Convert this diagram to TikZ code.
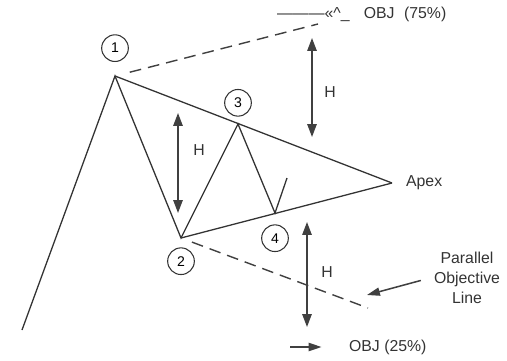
\documentclass[tikz,border=0pt]{standalone}
\usepackage{fontspec}
\setmainfont{Liberation Sans}
\usepackage{tikz}
\usetikzlibrary{arrows.meta,positioning}
\tikzstyle{trend} = [draw=black!80, line width=1.1pt, line join=miter]
\tikzstyle{objline} = [draw=black!75, line width=1.2pt, dash pattern=on 10pt off 6pt]
\tikzstyle{num} = [circle, draw=black!80, line width=0.9pt, minimum size=0.8cm,
                   inner sep=0pt, font=\fontsize{12}{14}\selectfont]
\tikzstyle{lbl} = [text=black!80, font=\fontsize{13.5}{17}\selectfont]
\tikzstyle{harrow} = [{Triangle[length=11pt,width=8pt]}-{Triangle[length=11pt,width=8pt]},
                      draw=black!75, line width=1.3pt]
\tikzstyle{arrow} = [-{Triangle[length=11pt,width=7pt]}, draw=black!75, line width=1.3pt]

\begin{document}
\begin{tikzpicture}[x=0.03cm, y=-0.03cm]
    \useasboundingbox (0,0) rectangle (507,360);
    % turning points of the pattern
    \coordinate (p0)   at (22,330);
    \coordinate (p1)   at (115,76);
    \coordinate (p2)   at (181,238);
    \coordinate (p3)   at (238,124);
    \coordinate (p4)   at (275,213);
    \coordinate (p5)   at (287,178);
    \coordinate (apex) at (392,183);

    \node [num, above=0.42cm of p1] (c1) {1};
    \node [num, below=0.28cm of p2] (c2) {2};
    \node [num, above=0.22cm of p3] (c3) {3};
    \node [num, below=0.34cm of p4] (c4) {4};
    \node [lbl, right=0.3cm of apex] (apx) {Apex};

    \draw [trend] (p0) -- (p1) -- (p2) -- (p3) -- (p4) -- (p5);
    \draw [trend] (p1) -- (apex);
    \draw [trend] (p2) -- (apex);

    % objective lines
    \node [lbl, anchor=west] (obj75) at (273,14) {———«\textasciicircum\_\hspace{0.9em}OBJ\hspace{0.6em}(75\%)};
    \coordinate (o75) at (318,24);
    \coordinate (o25) at (368,308);
    \draw [objline, shorten <=13pt] (p1) -- (o75);
    \draw [objline, shorten <=10pt] (p2) -- (o25);

    % heights
    \coordinate (ha) at (178,113);
    \coordinate (hb) at (178,213);
    \coordinate (hc) at (312,38);
    \coordinate (hd) at (312,137);
    \coordinate (he) at (307,222);
    \coordinate (hf) at (307,327);
    \draw [harrow] (ha) -- (hb);
    \draw [harrow] (hc) -- (hd);
    \draw [harrow] (he) -- (hf);
    \node [lbl] (h1) at (199,150) {H};
    \node [lbl] (h2) at (330,92)  {H};
    \node [lbl] (h3) at (327,272) {H};

    \node [lbl, align=center] (pol) at (467,278) {Parallel\\Objective\\Line};
    \coordinate (ptip) at (367,295);
    \draw [arrow, shorten <=8pt] (pol.west) -- (ptip);
    \node [lbl, anchor=west] (obj25) at (345,347) {OBJ (25\%)};
    \coordinate (a25) at (290,347);
    \draw [arrow, shorten >=20pt] (a25) -- (obj25.west);
\end{tikzpicture}
\end{document}
